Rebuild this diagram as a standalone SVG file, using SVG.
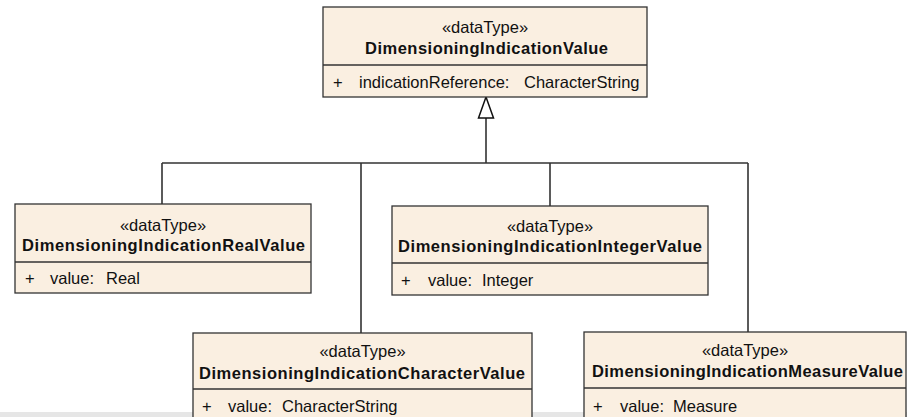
<svg xmlns="http://www.w3.org/2000/svg" width="907" height="417" viewBox="0 0 907 417">
<defs>
<style>
.box{fill:#FAEFE1;stroke:#333333;stroke-width:1.3}
.div{stroke:#333333;stroke-width:1.3}
.st{font-family:"Liberation Sans",Arial,sans-serif;font-size:16.5px;fill:#111;text-anchor:middle}
.nm{font-family:"Liberation Sans",Arial,sans-serif;font-size:16.5px;font-weight:bold;fill:#111;text-anchor:middle}
.at{font-family:"Liberation Sans",Arial,sans-serif;font-size:16.5px;fill:#111}
.ln{fill:none;stroke:#333333;stroke-width:1.6}
.tri{fill:#ffffff;stroke:#111;stroke-width:1.5}
</style>
</defs>
<rect x="0" y="412" width="907" height="5" fill="#E6E6E6"/>
<g id="connectors">
<path class="ln" d="M486 118 V163 M162 163 H748 M162 163 V204 M361 163 V333 M550 163 V206 M748 163 V332"/>
<polygon class="tri" points="486,97 478.5,118 493.5,118"/>
</g>
<g id="DimensioningIndicationValue">
<rect class="box" x="323" y="7" width="324" height="90"/>
<line class="div" x1="323" y1="65" x2="647" y2="65"/>
<text class="st" x="485" y="33">«dataType»</text>
<text class="nm" x="486.5" y="54" textLength="243" lengthAdjust="spacing">DimensioningIndicationValue</text>
<text class="at" x="333" y="88">+</text>
<text class="at" x="359" y="88">indicationReference:</text>
<text class="at" x="524" y="88">CharacterString</text>
</g>
<g id="DimensioningIndicationRealValue">
<rect class="box" x="15" y="204" width="296" height="89"/>
<line class="div" x1="15" y1="262" x2="311" y2="262"/>
<text class="st" x="163" y="231">«dataType»</text>
<text class="nm" x="163.5" y="251" textLength="283" lengthAdjust="spacing">DimensioningIndicationRealValue</text>
<text class="at" x="25" y="284">+</text>
<text class="at" x="50" y="284">value:</text>
<text class="at" x="106" y="284">Real</text>
</g>
<g id="DimensioningIndicationIntegerValue">
<rect class="box" x="392" y="206" width="316" height="89"/>
<line class="div" x1="392" y1="263" x2="708" y2="263"/>
<text class="st" x="550" y="232">«dataType»</text>
<text class="nm" x="550" y="252" textLength="304" lengthAdjust="spacing">DimensioningIndicationIntegerValue</text>
<text class="at" x="401" y="286">+</text>
<text class="at" x="428" y="286">value:</text>
<text class="at" x="482" y="286">Integer</text>
</g>
<g id="DimensioningIndicationCharacterValue">
<rect class="box" x="193" y="333" width="339" height="100"/>
<line class="div" x1="193" y1="389" x2="532" y2="389"/>
<text class="st" x="362.5" y="357">«dataType»</text>
<text class="nm" x="362" y="379" textLength="326" lengthAdjust="spacing">DimensioningIndicationCharacterValue</text>
<text class="at" x="202" y="412">+</text>
<text class="at" x="228" y="412">value:</text>
<text class="at" x="282" y="412">CharacterString</text>
</g>
<g id="DimensioningIndicationMeasureValue">
<rect class="box" x="584" y="332" width="322" height="100"/>
<line class="div" x1="584" y1="388" x2="906" y2="388"/>
<text class="st" x="745" y="356">«dataType»</text>
<text class="nm" x="747.5" y="377" textLength="311" lengthAdjust="spacing">DimensioningIndicationMeasureValue</text>
<text class="at" x="593" y="412">+</text>
<text class="at" x="620" y="412">value:</text>
<text class="at" x="673" y="412">Measure</text>
</g>
</svg>
